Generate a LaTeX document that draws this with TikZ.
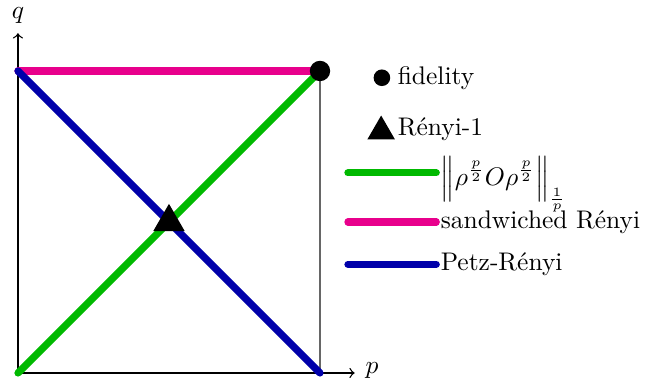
\documentclass[tikz,border=0pt]{standalone}
\usepackage{amsmath}
\usetikzlibrary{shapes.geometric}
\definecolor{cgreen}{RGB}{0,185,0}
\definecolor{cmag}{RGB}{232,0,140}
\definecolor{cblue}{RGB}{0,0,170}
\begin{document}
\begin{tikzpicture}[x=1cm,y=1cm,
  thick line/.style={line width=2.7pt,line cap=round},
  lbl/.style={anchor=west,inner sep=1pt,scale=0.96},
  tri/.style={regular polygon,regular polygon sides=3,fill=black,inner sep=0pt}]
\useasboundingbox (-0.238,-0.079) rectangle (8.331,4.94);
% axes
\coordinate (O) at (0,0);
\coordinate (PX) at (4.46,0);
\coordinate (QY) at (0,4.5);
\coordinate (TL) at (0,4);
\coordinate (TR) at (4,4);
\coordinate (BR) at (4,0);
\draw[gray!80!black,line width=0.5pt] (TR) -- (BR);
\draw[->,line width=0.5pt] (O) -- (PX);
\draw[->,line width=0.5pt] (O) -- (QY);
\node[scale=0.96] (plabel) at (4.69,0.03) {$p$};
\node[scale=0.96] (qlabel) at (0,4.73) {$q$};
% lines
\draw[thick line,cmag] (TL) -- (TR);
\draw[thick line,cgreen] (O) -- (TR);
\draw[thick line,cblue] (TL) -- (BR);
\fill (TR) circle (0.135);
\node[tri,minimum size=0.48cm] (ren) at (2,2) {};
% legend
\fill (4.82,3.91) circle (0.11);
\node[lbl] (fid) at (4.99,3.91) {fidelity};
\node[tri,minimum size=0.42cm] (lt) at (4.81,3.2) {};
\node[lbl] (r1) at (4.99,3.23) {R\'enyi-1};
\coordinate (g1) at (4.37,2.65); \coordinate (g2) at (5.54,2.65);
\coordinate (m1) at (4.37,2.0); \coordinate (m2) at (5.54,2.0);
\coordinate (b1) at (4.37,1.44); \coordinate (b2) at (5.54,1.44);
\draw[thick line,cgreen] (g1) -- (g2);
\draw[thick line,cmag] (m1) -- (m2);
\draw[thick line,cblue] (b1) -- (b2);
\node[lbl] (gl) at (5.56,2.5) {$\displaystyle\left\|\rho^{\frac{p}{2}}O\rho^{\frac{p}{2}}\right\|_{\frac{1}{p}}$};
\node[lbl] (ml) at (5.56,2.0) {sandwiched R\'enyi};
\node[lbl] (bl) at (5.56,1.44) {Petz-R\'enyi};
\end{tikzpicture}
\end{document}
